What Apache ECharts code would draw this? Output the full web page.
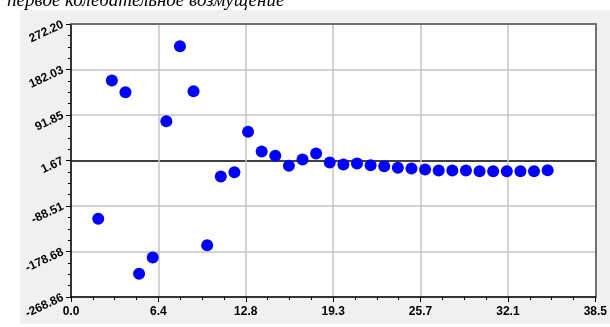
<!DOCTYPE html>
<html>
<head>
<meta charset="utf-8">
<script src="https://cdn.jsdelivr.net/npm/echarts@6/dist/echarts.min.js"></script>
<style>html,body{margin:0;padding:0;background:#fff}#c{width:610px;height:327px}</style>
</head>
<body>
<div id="c"></div>
<script>
var titleText = 'первое колебательное возмущение';
var xValues = [2,3,4,5,6,7,8,9,10,11,12,13,14,15,16,17,18,19,20,21,22,23,24,25,26,27,28,29,30,31,32,33,34,35];
var yValues = [-113.9,160.2,137.0,-222.9,-190.6,79.6,228.2,139.0,-166.2,-30.0,-21.5,58.5,19.5,11.0,-8.8,3.7,15.5,-2.3,-6.3,-4.3,-7.6,-9.6,-12.8,-14.2,-16.2,-18.1,-18.1,-18.1,-19.5,-19.5,-19.5,-19.5,-19.5,-17.5];
var xTickLabels = ['0.0','6.4','12.8','19.3','25.7','32.1','38.5'];
var yTickLabels = ['-268.86','-178.68','-88.51','1.67','91.85','182.03','272.20'];
var xMin = 0, xMax = 38.5;
var yMin = -268.86, yMax = 272.20;

var chart = echarts.init(document.getElementById('c'));
var lbl = {fontFamily:'"Liberation Sans", Arial, sans-serif', fontWeight:'bold', fontSize:12, color:'#000'};
var data = xValues.map(function(x,i){return [x,yValues[i]];});
var grid = '#c4c4c4';
chart.setOption({
  animation:false,
  backgroundColor:'#ffffff',
  graphic:[
    {type:'rect', z:-10, silent:true, shape:{x:20,y:10,width:590,height:314}, style:{fill:'#f0f0f0'}},
    {type:'rect', z:-9, silent:true, shape:{x:71,y:24,width:525,height:273}, style:{fill:'#ffffff'}},
    {type:'text', z:10, left:7, top:-9, style:{text:titleText, font:'italic 19px "Liberation Serif", serif', fill:'#000'}}
  ],
  grid:{left:71,right:14,top:24,bottom:30},
  xAxis:[
    {type:'value', min:xMin, max:xMax, interval:(xMax-xMin)/6,
     axisLine:{show:true, onZero:false, lineStyle:{color:'#000',width:1.5}},
     axisTick:{show:true, length:5, lineStyle:{color:'#000'}},
     minorTick:{show:true, splitNumber:4, length:3, lineStyle:{color:'#000'}},
     splitLine:{show:true, lineStyle:{color:grid,width:1.5}},
     axisLabel:Object.assign({margin:9, formatter:function(v,i){return xTickLabels[i];}}, lbl)},
    {type:'value', position:'top', min:0, max:1, show:true,
     axisLine:{show:true, onZero:false, lineStyle:{color:'#707070',width:2}},
     axisTick:{show:false}, axisLabel:{show:false}, splitLine:{show:false}}
  ],
  yAxis:[
    {type:'value', min:yMin, max:yMax, show:false, splitLine:{show:false}},
    {type:'value', min:0, max:6, interval:1, position:'left',
     axisLine:{show:true, onZero:false, lineStyle:{color:'#000',width:1.5}},
     axisTick:{show:true, length:5, lineStyle:{color:'#000'}},
     minorTick:{show:true, splitNumber:4, length:3, lineStyle:{color:'#000'}},
     splitLine:{show:true, lineStyle:{color:[grid,grid,grid,'#000',grid,grid,'#707070'],width:1.5}},
     axisLabel:Object.assign({margin:8, rotate:25, formatter:function(v,i){return yTickLabels[i];}}, lbl)},
    {type:'value', position:'right', min:0, max:1, show:true,
     axisLine:{show:true, onZero:false, lineStyle:{color:'#707070',width:2}},
     axisTick:{show:false}, axisLabel:{show:false}, splitLine:{show:false}}
  ],
  series:[{
    type:'scatter', xAxisIndex:0, yAxisIndex:0, data:data,
    symbol:'circle', symbolSize:12, itemStyle:{color:'#0000ff', opacity:1}
  }]
});
</script>
</body>
</html>
